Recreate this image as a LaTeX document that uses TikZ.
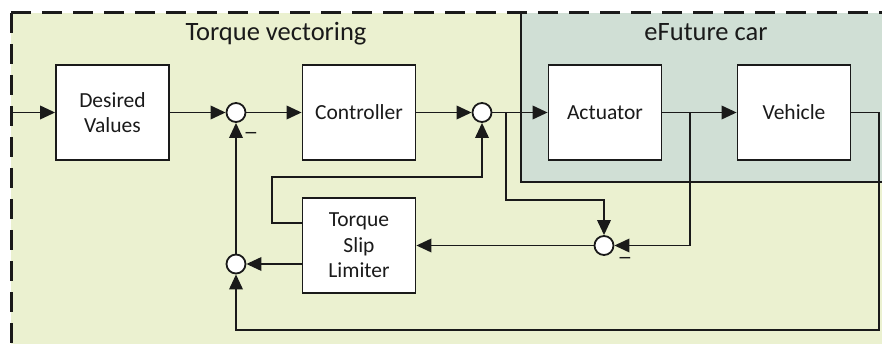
\documentclass[tikz,border=0pt]{standalone}
\usepackage{fontspec}
\setmainfont{Carlito}
\newfontfamily\signfont{DejaVu Sans}
\usetikzlibrary{arrows.meta}
\definecolor{tvfill}{HTML}{EBF1D0}
\definecolor{carfill}{HTML}{D0DFD5}
\definecolor{ink}{HTML}{1A1A1A}
\begin{document}
\begin{tikzpicture}[x=1pt,y=-1pt,
  block/.style={draw=ink, line width=1.8pt, fill=white, minimum width=113pt,
    minimum height=95pt, inner sep=0pt, align=center,
    font=\fontsize{21.5}{25.5}\selectfont, text=ink},
  sumpt/.style={circle, draw=ink, line width=1.8pt, fill=white,
    minimum size=19pt, inner sep=0pt},
  wire/.style={line width=1.9pt, draw=ink},
  flow/.style={wire, -{Triangle[length=15pt,width=13.5pt]}},
  title/.style={font=\fontsize{26.5}{30}\selectfont, text=ink, anchor=base},
  minus/.style={font=\signfont\fontsize{17}{20}\selectfont, text=ink, inner sep=0pt}]

\useasboundingbox (0,0) rectangle (882,344);

% background regions
\begin{scope}
  \clip (0,0) rectangle (882,344);
  \fill[tvfill] (11,13) rectangle (900,360);
  \fill[carfill] (521,13) rectangle (900,182);
  \draw[line width=1.9pt, ink] (521,13) -- (521,182) -- (900,182);
  \draw[line width=3pt, ink, dash pattern=on 20pt off 11pt] (11,13) -- (11,360);
  \draw[line width=3pt, ink, dash pattern=on 20pt off 11pt] (11,13) -- (900,13);
\end{scope}

% region titles
\node[title] (tvtitle) at (276,41) {Torque vectoring};
\node[title] (cartitle) at (706,41) {eFuture car};

% blocks
\node[block] (dv)   at (112.5,112.5) {Desired\\Values};
\node[block] (ctrl) at (359,112.5)   {Controller};
\node[block] (act)  at (605,112.5)   {Actuator};
\node[block] (veh)  at (794,112.5)   {Vehicle};
\node[block] (tsl)  at (359,245.5)   {Torque\\Slip\\Limiter};

% summing points
\node[sumpt] (s1) at (236,112.5) {};
\node[sumpt] (s2) at (482,112.5) {};
\node[sumpt] (s3) at (236,264) {};
\node[sumpt] (s4) at (604,245.5) {};

% branch points and input
\coordinate (in) at (11,112.5);
\coordinate (b1) at (506,112.5);
\coordinate (b2) at (690,112.5);
\coordinate (vout) at (879,112.5);

% forward path
\draw[flow] (in) -- (dv);
\draw[flow] (dv) -- (s1);
\draw[flow] (s1) -- (ctrl);
\draw[flow] (ctrl) -- (s2);
\draw[flow] (s2) -- (act);
\draw[flow] (act) -- (veh);

% slip limiter loop
\draw[flow] (b1) |- (s4 |- 0,200) -- (s4);
\draw[flow] (b2) |- (s4);
\draw[flow] (s4) -- (tsl);
\draw[flow] (tsl.west |- s3) -- (s3);
\draw[flow] (tsl.west |- 0,223) -- (272,223) |- (s2 |- 0,177) -- (s2);

% vehicle feedback
\draw[flow] (veh) -- (vout) -- (879,330) -| (s3);
\draw[flow] (s3) -- (s1);

% signs
\node[minus] (m1) at (251,135) {−};
\node[minus] (m4) at (625,260) {−};
\end{tikzpicture}
\end{document}
